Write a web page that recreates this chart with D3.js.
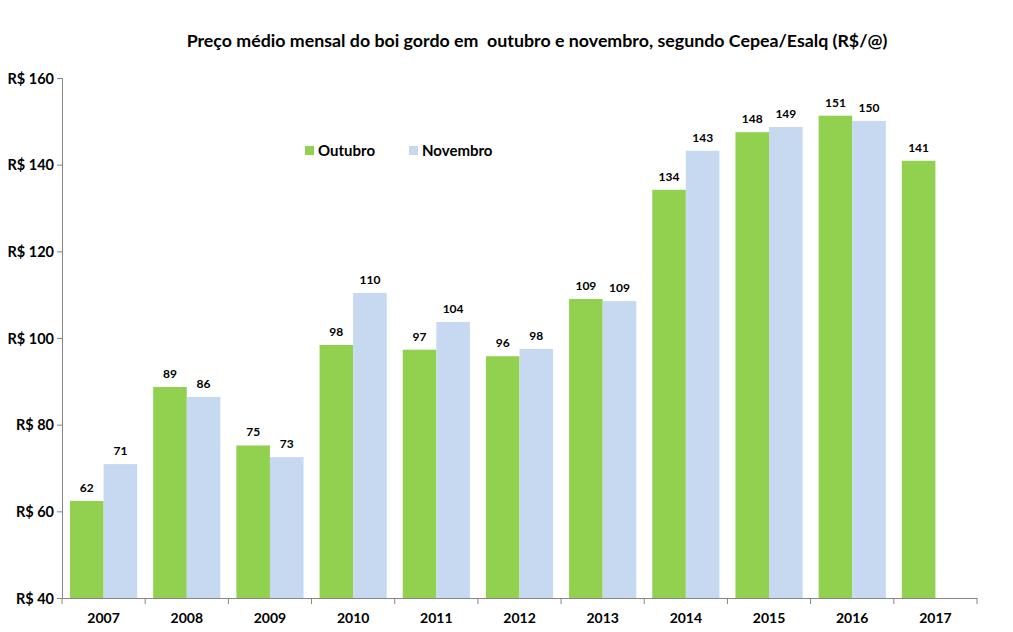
<!DOCTYPE html>
<html>
<head>
<meta charset="utf-8">
<script src="https://cdn.jsdelivr.net/npm/d3@7"></script>
<style>
  body { margin: 0; background: #fff; }
  svg text { font-family: Lato, "Open Sans", sans-serif; font-weight: bold; fill: #000; }
</style>
</head>
<body>
<div id="chart"></div>
<script>
const years = ["2007","2008","2009","2010","2011","2012","2013","2014","2015","2016","2017"];
const outubro = [62.4, 88.7, 75.2, 98.4, 97.3, 95.8, 109.0, 134.2, 147.5, 151.3, 140.9];
const novembro = [70.9, 86.4, 72.5, 110.4, 103.7, 97.5, 108.5, 143.2, 148.7, 150.1, null];
const yTicks = [40, 60, 80, 100, 120, 140, 160];
const seriesNames = ["Outubro", "Novembro"];
const colors = ["#92D050", "#C6D9F1"];

const W = 1013, H = 632;
const svg = d3.select("#chart").append("svg").attr("width", W).attr("height", H);

const x = d3.scaleBand().domain(years).range([62, 977]);
const x1 = d3.scaleBand().domain(seriesNames).range([8, x.bandwidth() - 8]);
const y = d3.scaleLinear().domain([40, 160]).range([598, 78]);

svg.append("text").attr("x", 537).attr("y", 47).attr("text-anchor", "middle")
  .style("font-size", "17.8px").style("white-space", "pre")
  .text("Preço médio mensal do boi gordo em  outubro e novembro, segundo Cepea/Esalq (R$/@)");

// bars
const rows = years.map((yr, i) => ({ year: yr, vals: [outubro[i], novembro[i]] }));
const grp = svg.selectAll("g.year").data(rows).join("g").attr("class", "year")
  .attr("transform", d => `translate(${x(d.year)},0)`);
grp.selectAll("rect").data(d => d.vals.map((v, k) => ({ v, k })).filter(e => e.v != null)).join("rect")
  .attr("x", e => x1(seriesNames[e.k])).attr("width", x1.bandwidth())
  .attr("y", e => y(e.v)).attr("height", e => y(40) - y(e.v))
  .attr("fill", e => colors[e.k]);
grp.selectAll("text.lbl").data(d => d.vals.map((v, k) => ({ v, k })).filter(e => e.v != null)).join("text")
  .attr("class", "lbl").attr("text-anchor", "middle")
  .attr("x", e => x1(seriesNames[e.k]) + x1.bandwidth() / 2).attr("y", e => y(e.v) - 9)
  .style("font-size", "12px").text(e => Math.round(e.v));

// axes
const yAxis = svg.append("g").attr("transform", "translate(62,0)")
  .call(d3.axisLeft(y).tickValues(yTicks).tickSize(5).tickFormat(d => "R$ " + d));
const xAxis = svg.append("g").attr("transform", "translate(0,598)")
  .call(d3.axisBottom(x).tickSize(0));
[yAxis, xAxis].forEach(a => { a.select(".domain").attr("stroke", "#868686"); a.selectAll("line").attr("stroke", "#868686"); });
yAxis.selectAll("text").style("font-size", "14.5px").attr("x", -8).attr("dy", "0.35em");
xAxis.selectAll("text").style("font-size", "14px").attr("dy", 0).attr("y", 25);
xAxis.selectAll("line.sep").data(d3.range(years.length + 1)).join("line").attr("class", "sep")
  .attr("x1", i => 62 + i * x.step()).attr("x2", i => 62 + i * x.step())
  .attr("y1", 0).attr("y2", 6).attr("stroke", "#868686");

// legend
const lg = svg.append("g").attr("transform", "translate(305,146)");
const items = lg.selectAll("g").data(seriesNames).join("g").attr("transform", (d, i) => `translate(${i * 104},0)`);
items.append("rect").attr("width", 9).attr("height", 9).attr("fill", (d, i) => colors[i]);
items.append("text").attr("x", 13).attr("y", 10).style("font-size", "15px").text(d => d);
</script>
</body>
</html>
